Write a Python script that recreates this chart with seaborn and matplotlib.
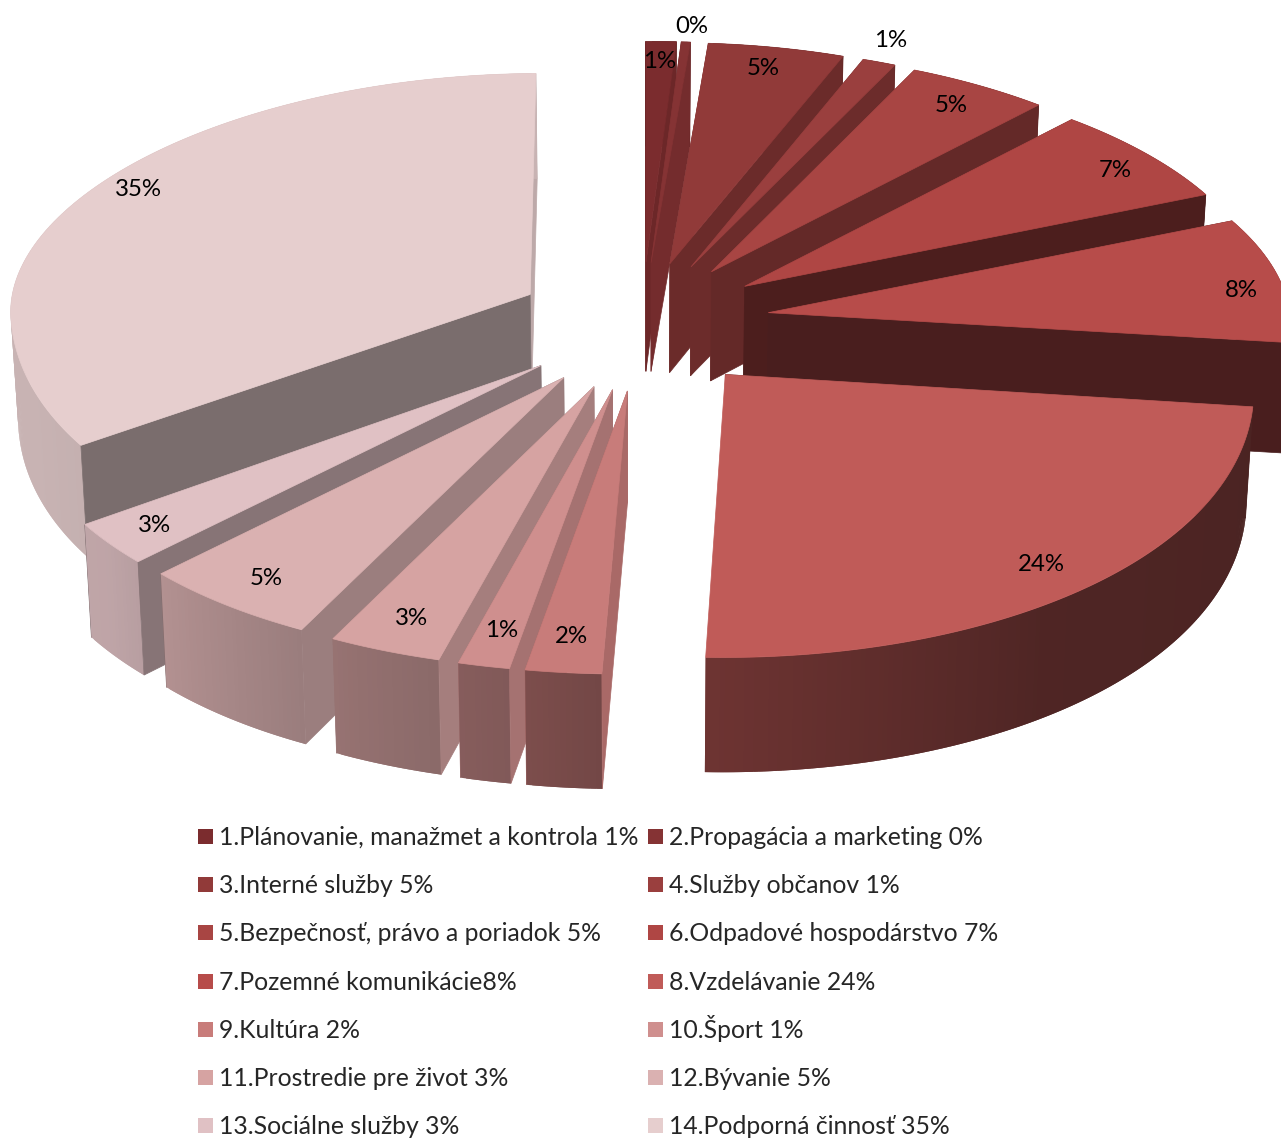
import numpy as np
import matplotlib
matplotlib.use("Agg")
import matplotlib.pyplot as plt
from matplotlib.lines import Line2D
from matplotlib.markers import MarkerStyle
from matplotlib.transforms import Affine2D
import seaborn as sns

# ------------------------------------------
# Data
# ------------------------------------------
values = [1.0, 0.3, 4.5, 1.1, 4.7, 6.8, 8.6, 23.7, 2.2, 1.5, 3.3, 5.3, 2.7, 34.3]
pct_labels = ["1%", "0%", "5%", "1%", "5%", "7%", "8%", "24%", "2%", "1%", "3%", "5%", "3%", "35%"]
legend_labels = [
    "1.Plánovanie, manažmet a kontrola 1%", "2.Propagácia a marketing 0%",
    "3.Interné služby 5%", "4.Služby občanov 1%",
    "5.Bezpečnosť, právo a poriadok 5%", "6.Odpadové hospodárstvo 7%",
    "7.Pozemné komunikácie8%", "8.Vzdelávanie 24%",
    "9.Kultúra 2%", "10.Šport 1%",
    "11.Prostredie pre život 3%", "12.Bývanie 5%",
    "13.Sociálne služby 3%", "14.Podporná činnosť 35%",
]
slice_colors = ["#7B2C2E", "#853334", "#913A39", "#9A3F3E", "#A84543", "#AF4644", "#B74C4A",
                "#C05B58", "#C87C7A", "#CF8F8E", "#D6A3A2", "#DAB1B1", "#E0C1C4", "#E6CECE"]
# where each percent label sits: distance from the slice tip, and how far across the slice
label_radius = [0.91, 1.07, 0.90, 1.10, 0.893, 0.904, 0.918, 0.885, 0.873, 0.87, 0.878, 0.885, 0.90, 0.92]
label_across = [0.5, 0.9, 0.47, 0.3, 0.5, 0.55, 0.59, 0.5, 0.5, 0.5, 0.5, 0.5, 0.5, 0.53]

# ------------------------------------------
# Fake 3D projection of the exploded pie
# ------------------------------------------
sns.set_theme(style="white")
plt.rcParams["font.family"] = ["Lato", "DejaVu Sans"]

CX, CY = 642, 322
SCALE_X = 522
SCALE_BACK, SCALE_FRONT = 221, 283
EXPLODE = 0.245
ROLL = 0.006


def project(gx, gy, bottom=False):
    gx, gy = np.asarray(gx, float), np.asarray(gy, float)
    sx = CX + SCALE_X * gx / (1 + 0.055 * gy)
    sy = CY - np.where(gy > 0, SCALE_BACK, SCALE_FRONT) * gy - ROLL * (sx - CX)
    if bottom:
        sx = CX + (sx - CX) * 0.988
        sy = sy + 110 - 4 * gy
    return sx, sy


def tip_offset(mid):
    oy = EXPLODE * np.cos(mid)
    return EXPLODE * np.sin(mid), oy * 1.1 if oy > 0 else oy


def wall_shade(theta):
    return np.interp(theta, [0, 3.6, 20, 25, 41, 68, 98, 182, 190, 196, 208, 227, 238, 360],
                     [0.9, 0.88, 0.75, 0.7, 0.6, 0.42, 0.4, 0.85, 0.8, 0.77, 0.71, 0.6, 0.52, 0.82])


def outer_shade(theta):
    return np.interp(theta, [98, 145, 182, 190, 205, 215, 232, 250, 360],
                     [0.39, 0.41, 0.57, 0.62, 0.69, 0.75, 0.85, 0.87, 0.87])


def dim(color, factor):
    return tuple(c * factor for c in color)


def fill(ax, xs, ys, color, lw=0.5):
    ax.fill(xs, ys, color=color, lw=lw, zorder=1)


palette = sns.color_palette(slice_colors)
edges = np.cumsum([0] + values) / sum(values) * 360

fig, ax = plt.subplots(figsize=(12.81, 11.38), dpi=100)
fig.subplots_adjust(0, 0, 1, 1)
ax.set_xlim(0, 1281)
ax.set_ylim(1138, 0)
ax.axis("off")

n_right = 8
order = list(range(n_right)) + list(range(len(values) - 1, n_right - 1, -1))

for i in order:
    t0, t1 = edges[i], edges[i + 1]
    ox, oy = tip_offset(np.radians((t0 + t1) / 2))
    thetas = np.linspace(t0, t1, max(3, int(t1 - t0) * 2))
    rad = np.radians(thetas)
    gx, gy = ox + np.sin(rad), oy + np.cos(rad)
    col = palette[i]

    tx, ty = project(gx, gy)
    bx, by = project(gx, gy, bottom=True)
    ax_t = project(ox, oy)
    ax_b = project(ox, oy, bottom=True)

    def radial_wall(k, theta):
        fill(ax, [ax_t[0], tx[k], bx[k], ax_b[0]], [ax_t[1], ty[k], by[k], ax_b[1]],
             dim(col, wall_shade(theta)))

    # hidden side first, then rim, then the visible cut face
    radial_wall(0 if i < n_right else -1, t0 if i < n_right else t1)
    # rim quads overlap the next one so no seams show; draw towards the visible face
    last = len(thetas) - 1
    steps = range(last) if i < n_right else range(last - 1, -1, -1)
    for k in steps:
        a, b = (k, min(k + 2, last)) if i < n_right else (max(k - 1, 0), k + 1)
        shade = outer_shade((thetas[k] + thetas[k + 1]) / 2)
        fill(ax, [tx[a], *tx[a + 1:b + 1], *bx[a:b + 1][::-1]],
             [ty[a], *ty[a + 1:b + 1], *by[a:b + 1][::-1]], dim(col, shade), lw=0)
    # the big slice's end face is edge-on to the viewer
    if i >= n_right:
        radial_wall(0, t0)
    elif t1 < 180:
        radial_wall(-1, t1)

    fill(ax, np.r_[ax_t[0], tx], np.r_[ax_t[1], ty], col)

# ------------------------------------------
# Percent labels
# ------------------------------------------
for i, txt in enumerate(pct_labels):
    ox, oy = tip_offset(np.radians((edges[i] + edges[i + 1]) / 2))
    at = np.radians(edges[i] + label_across[i] * (edges[i + 1] - edges[i]))
    r = label_radius[i]
    lx, ly = project(ox + r * np.sin(at), oy + r * np.cos(at))
    ax.text(lx, ly, txt, ha="center", va="center", fontsize=17.3, color="black", zorder=5)

# ------------------------------------------
# Legend (two columns, row by row)
# ------------------------------------------
square = MarkerStyle("s", transform=Affine2D().translate(0, -0.25))
handles = [Line2D([], [], linestyle="none", marker=square, markersize=10.8, markeredgewidth=0,
                  color=palette[i], label=legend_labels[i]) for i in range(len(values))]
handles = handles[0::2] + handles[1::2]
ax.legend(handles=handles, ncol=2, loc="upper left", bbox_to_anchor=(197, 821),
          bbox_transform=ax.transData, frameon=False, fontsize=17.8, borderpad=0,
          borderaxespad=0, handlelength=0.62, handleheight=1.6, handletextpad=0.27,
          labelspacing=0.665, columnspacing=0.35, numpoints=1)

fig.savefig("out.png", dpi=100)
